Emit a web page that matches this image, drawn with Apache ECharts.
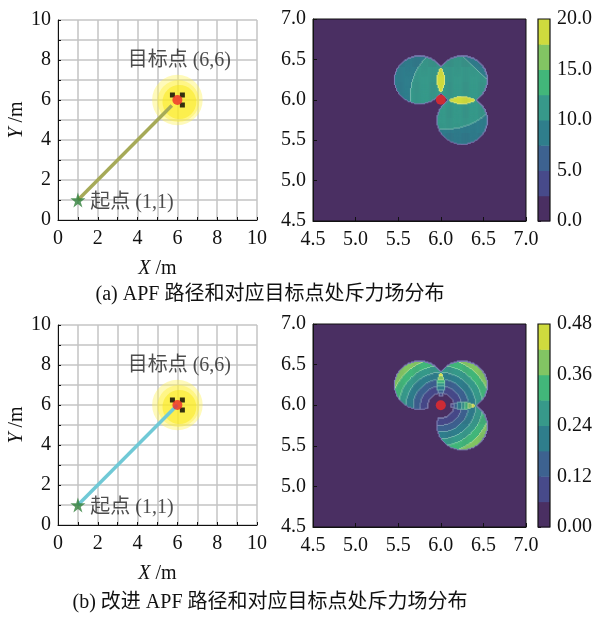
<!DOCTYPE html>
<html><head><meta charset="utf-8">
<script src="https://cdn.jsdelivr.net/npm/echarts@6/dist/echarts.min.js"></script>
<style>html,body{margin:0;padding:0;background:#fff}#c{width:603px;height:619px}</style>
</head><body><div id="c"></div>
<script>
// ---------------- data ----------------
const startPoint = [1, 1];
const goalPoint = [6, 6];
const obstacles = [[5.75, 6.25], [6.25, 6.25], [6.25, 5.75]];
const influenceRadius = 0.3;
const pathA = [[1, 1], [5.72, 5.72]];          // standard APF stops short of goal
const pathB = [[1, 1], [6, 6]];                // improved APF reaches goal
const goalFieldLayers = [[6, 6, 1.27], [6.05, 5.95, 1.05], [6.1, 5.9, 0.85]]; // x, y, radius
const levelsA = [0, 2.5, 5, 7.5, 10, 12.5, 15, 17.5, 20];
const levelsB = [0, 0.06, 0.12, 0.18, 0.24, 0.30, 0.36, 0.42, 0.48];
// field model (a): per obstacle reference centre / radius of the inner-outer split
const refCentersA = [[6.35, 6.05], [3, 3], [6.05, 6.35]];
const refRadiiA = [0.714, 4.815, 0.714];
const baseA = 10, gainA = 4;
// field model (b): grows with distance to goal
const gainB = 0.714, offsetB = 0.066;
const titles = ['(a) APF 路径和对应目标点处斥力场分布', '(b) 改进 APF 路径和对应目标点处斥力场分布'];

// ---------------- helpers ----------------
const FONT = '"Liberation Serif","Noto Sans CJK SC",serif';
const bandColors = ['#4a2f62', '#474a8a', '#3d6290', '#2f7e8c', '#37998a', '#42b67a', '#82c563', '#cfdb3e'];
const outerEdge = '#7b7fb5';
const STEP = 0.0125, FMIN = 4.5, FMAX = 7.0;

function lighten(hex, f) {
  const n = parseInt(hex.slice(1), 16);
  const r = (n >> 16) & 255, g = (n >> 8) & 255, b = n & 255;
  const m = c => Math.round(c + (255 - c) * f);
  return 'rgb(' + m(r) + ',' + m(g) + ',' + m(b) + ')';
}
function fieldA(x, y) {
  let v = 0, inside = false;
  obstacles.forEach((c, i) => {
    if (Math.hypot(x - c[0], y - c[1]) <= influenceRadius) {
      inside = true;
      const q = refCentersA[i];
      v += baseA + gainA * (refRadiiA[i] - Math.hypot(x - q[0], y - q[1]));
    }
  });
  return [inside, v];
}
function fieldB(x, y) {
  let v = 0, inside = false;
  const dg = Math.hypot(x - goalPoint[0], y - goalPoint[1]);
  obstacles.forEach(c => {
    if (Math.hypot(x - c[0], y - c[1]) <= influenceRadius) {
      inside = true;
      v += gainB * Math.max(dg - offsetB, 0);
    }
  });
  return [inside, v];
}
function buildCells(fn, levels) {
  const n = Math.round((FMAX - FMIN) / STEP);
  const dl = levels[1] - levels[0];
  const ins = [], band = [];
  for (let j = 0; j < n; j++) {
    ins.push([]); band.push([]);
    for (let i = 0; i < n; i++) {
      const x = FMIN + (i + 0.5) * STEP, y = FMIN + (j + 0.5) * STEP;
      const r = fn(x, y);
      ins[j].push(r[0]);
      band[j].push(r[0] ? Math.max(0, Math.min(7, Math.floor(r[1] / dl))) : 0);
    }
  }
  const cells = [];
  const nb = [[1, 0], [-1, 0], [0, 1], [0, -1]];
  for (let j = 0; j < n; j++) for (let i = 0; i < n; i++) {
    if (!ins[j][i]) continue;
    const b = band[j][i];
    let kind = 0;
    for (const d of nb) {
      const ii = i + d[0], jj = j + d[1];
      if (ii < 0 || jj < 0 || ii >= n || jj >= n || !ins[jj][ii]) { kind = 2; break; }
      if (band[jj][ii] < b) kind = 1;
    }
    if (b === 0) continue;
    cells.push([FMIN + (i + 0.5) * STEP, FMIN + (j + 0.5) * STEP, b, kind]);
  }
  return cells;
}
const cellsA = buildCells(fieldA, levelsA);
const cellsB = buildCells(fieldB, levelsB);

function cellRender(params, api) {
  const x = api.value(0), y = api.value(1), b = api.value(2), k = api.value(3);
  const p = api.coord([x - STEP / 2, y + STEP / 2]);
  const s = api.size([STEP, STEP]);
  const fill = k === 2 ? outerEdge : (k === 1 ? lighten(bandColors[b], 0.3) : bandColors[b]);
  return { type: 'rect', shape: { x: p[0], y: p[1], width: s[0] + 0.4, height: s[1] + 0.4 }, style: { fill: fill } };
}
const glowColors = ['rgba(255,242,90,0.42)', 'rgba(255,238,50,0.38)', 'rgba(250,232,20,0.5)'];
function glowRender(params, api) {
  const c = api.coord([api.value(0), api.value(1)]);
  const r = api.size([api.value(2), 0])[0];
  return { type: 'circle', shape: { cx: c[0], cy: c[1], r: r }, style: { fill: glowColors[params.dataIndex] } };
}
function cbRender(params, api) {
  const lo = api.value(0), hi = api.value(1);
  const p0 = api.coord([0, hi]), p1 = api.coord([1, lo]);
  return { type: 'rect', shape: { x: p0[0], y: p0[1], width: p1[0] - p0[0], height: p1[1] - p0[1] + 0.5 }, style: { fill: bandColors[params.dataIndex] } };
}
function cbFrame(params, api) {
  const p0 = api.coord([0, api.value(1)]), p1 = api.coord([1, api.value(0)]);
  return { type: 'rect', shape: { x: p0[0], y: p0[1], width: p1[0] - p0[0], height: p1[1] - p0[1] }, style: { fill: 'none', stroke: '#111', lineWidth: 1.2 } };
}

const starPath = 'path://M50,0 L61,35 L98,35 L68,57 L79,91 L50,70 L21,91 L32,57 L2,35 L39,35 Z';
const txt = { fontFamily: FONT, fontSize: 20, color: '#111' };
const nameStyle = { fontFamily: FONT, fontSize: 20, color: '#111', rich: { i: { fontFamily: FONT, fontSize: 20, fontStyle: 'italic', color: '#111' } } };

const rows = [
  { top: 20, rtop: 19, rh: 202, path: pathA, pathColor: '#a6aa58', cells: cellsA, levels: levelsA, fmt: v => (Math.round(v / 2.5) % 2 === 0 ? v.toFixed(1) : '') },
  { top: 325, rtop: 324, rh: 203, path: pathB, pathColor: '#70c9d6', cells: cellsB, levels: levelsB, fmt: v => (Math.round(v / 0.06) % 2 === 0 ? v.toFixed(2) : '') }
];

const grid = [], xAxis = [], yAxis = [], series = [], graphic = [];
rows.forEach((r, k) => {
  const g = k * 3;
  grid.push({ left: 58, top: r.top, width: 199, height: 200, show: false });
  grid.push({ left: 313, top: r.rtop, width: 213, height: r.rh, show: true, backgroundColor: bandColors[0], borderColor: '#111', borderWidth: 1 });
  grid.push({ left: 538, top: r.rtop, width: 12, height: r.rh, show: false });
  // left panel axes
  xAxis.push({ gridIndex: g, type: 'value', min: 0, max: 10, interval: 2,
    axisLine: { show: true, lineStyle: { color: '#111' } },
    axisTick: { show: true, inside: true, length: 3, lineStyle: { color: '#111' } },
    minorTick: { show: true, splitNumber: 2, length: 3, lineStyle: { color: '#111' } },
    splitLine: { show: true, lineStyle: { color: '#c4c4c4', width: 1.5 } },
    minorSplitLine: { show: true, lineStyle: { color: '#c4c4c4', width: 1.5 } },
    axisLabel: Object.assign({ margin: 9 }, txt),
    name: '{i|X} /m', nameLocation: 'middle', nameGap: 39, nameTextStyle: nameStyle });
  yAxis.push({ gridIndex: g, type: 'value', min: 0, max: 10, interval: 2,
    axisLine: { show: true, lineStyle: { color: '#111' } },
    axisTick: { show: true, inside: true, length: 3, lineStyle: { color: '#111' } },
    minorTick: { show: true, splitNumber: 2, length: 3, lineStyle: { color: '#111' } },
    splitLine: { show: true, lineStyle: { color: '#c4c4c4', width: 1.5 } },
    minorSplitLine: { show: true, lineStyle: { color: '#c4c4c4', width: 1.5 } },
    axisLabel: Object.assign({ margin: 7 }, txt),
    name: '{i|Y} /m', nameLocation: 'middle', nameGap: 29, nameRotate: 90, nameTextStyle: nameStyle });
  // right panel axes
  xAxis.push({ gridIndex: g + 1, type: 'value', min: 4.5, max: 7.0, interval: 0.5,
    axisLine: { show: true, lineStyle: { color: '#111' } },
    axisTick: { show: true, inside: true, length: 4, lineStyle: { color: '#111' } },
    splitLine: { show: false },
    axisLabel: Object.assign({ margin: 9, formatter: v => v.toFixed(1) }, txt) });
  yAxis.push({ gridIndex: g + 1, type: 'value', min: 4.5, max: 7.0, interval: 0.5,
    axisLine: { show: true, lineStyle: { color: '#111' } },
    axisTick: { show: true, inside: true, length: 4, lineStyle: { color: '#111' } },
    splitLine: { show: false },
    axisLabel: Object.assign({ margin: 7, formatter: v => v.toFixed(1) }, txt) });
  // colorbar axes
  xAxis.push({ gridIndex: g + 2, type: 'value', min: 0, max: 1, show: false });
  yAxis.push({ gridIndex: g + 2, type: 'value', position: 'right', min: 0, max: r.levels[8], interval: r.levels[1],
    axisLine: { show: false },
    axisTick: { show: true, inside: false, length: 3, lineStyle: { color: '#111' } },
    splitLine: { show: false },
    axisLabel: Object.assign({ margin: 7, formatter: r.fmt }, txt) });

  // left panel series
  series.push({ type: 'custom', xAxisIndex: g, yAxisIndex: g, renderItem: glowRender, data: goalFieldLayers, z: 2, silent: true });
  series.push({ type: 'line', xAxisIndex: g, yAxisIndex: g, data: r.path, symbol: 'none', lineStyle: { color: r.pathColor, width: 3.5 }, z: 3, silent: true });
  series.push({ type: 'scatter', xAxisIndex: g, yAxisIndex: g, data: obstacles, symbol: 'rect', symbolSize: 5, itemStyle: { color: '#000' }, z: 4, silent: true });
  series.push({ type: 'scatter', xAxisIndex: g, yAxisIndex: g, data: [goalPoint], symbol: 'circle', symbolSize: 10, itemStyle: { color: '#ee2a2a' }, z: 5, silent: true });
  series.push({ type: 'scatter', xAxisIndex: g, yAxisIndex: g, data: [startPoint], symbol: starPath, symbolSize: 15, itemStyle: { color: '#2f7f3a' }, z: 5, silent: true });
  series.push({ type: 'scatter', xAxisIndex: g, yAxisIndex: g, symbolSize: 0, z: 6, silent: true,
    data: [
      { value: [3.5, 7.95], label: { show: true, position: 'right', distance: 0, formatter: '目标点 (' + goalPoint.join(',') + ')', fontFamily: FONT, fontSize: 20, color: '#222' } },
      { value: [1.62, 0.86], label: { show: true, position: 'right', distance: 0, formatter: '起点 (' + startPoint.join(',') + ')', fontFamily: FONT, fontSize: 20, color: '#222' } }
    ] });
  // right panel field
  series.push({ type: 'custom', xAxisIndex: g + 1, yAxisIndex: g + 1, renderItem: cellRender, data: r.cells, z: 2, silent: true, progressive: 0 });
  series.push({ type: 'scatter', xAxisIndex: g + 1, yAxisIndex: g + 1, data: [goalPoint], symbol: 'circle', symbolSize: 10, itemStyle: { color: '#ee2a2a' }, z: 5, silent: true });
  // colorbar
  const cb = [];
  for (let i = 0; i < 8; i++) cb.push([r.levels[i], r.levels[i + 1]]);
  series.push({ type: 'custom', xAxisIndex: g + 2, yAxisIndex: g + 2, renderItem: cbRender, data: cb, z: 2, silent: true });
  series.push({ type: 'custom', xAxisIndex: g + 2, yAxisIndex: g + 2, renderItem: cbFrame, data: [[r.levels[0], r.levels[8]]], z: 3, silent: true });

  graphic.push({ type: 'text', x: 270, y: k === 0 ? 295 : 603, style: { text: titles[k], align: 'center', verticalAlign: 'middle', fontFamily: FONT, fontSize: 20, fill: '#111' } });
});

const chart = echarts.init(document.getElementById('c'), null, { renderer: 'canvas' });
chart.setOption({ animation: false, backgroundColor: '#fff', grid, xAxis, yAxis, series, graphic });
</script>
</body></html>
